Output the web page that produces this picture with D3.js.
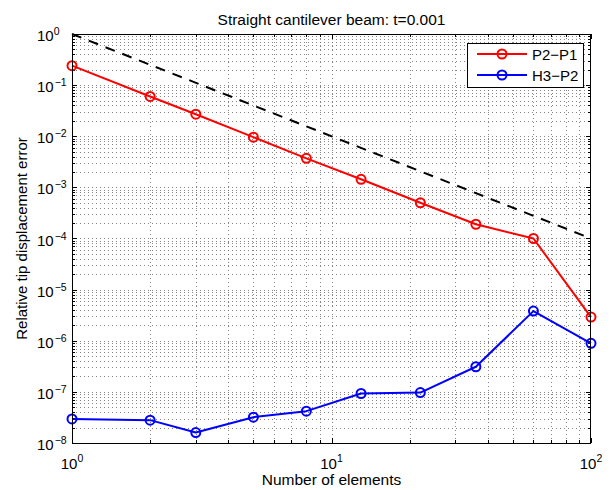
<!DOCTYPE html>
<html>
<head>
<meta charset="utf-8">
<script src="https://cdn.jsdelivr.net/npm/d3@7"></script>
<style>
  html, body { margin: 0; padding: 0; background: #fff; }
  svg { display: block; font-family: "Liberation Sans", Arial, Helvetica, sans-serif; }
</style>
</head>
<body>
<svg id="chart" width="612" height="490"></svg>
<script>
// ---- data ----
const elements = [1, 2, 3, 5, 8, 13, 22, 36, 60, 100];
const p2p1 = [0.24, 0.06, 0.027, 0.0096, 0.0037, 0.00144, 0.0005, 0.00019, 0.0001, 2.9e-6];
const h3p2 = [2.95e-8, 2.8e-8, 1.6e-8, 3.2e-8, 4.2e-8, 9.3e-8, 9.7e-8, 3.1e-7, 3.8e-6, 8.9e-7];
const refX = [1, 100];
const refY = [1, 1e-4];
const xMajorExp = [0, 1, 2];
const yMajorExp = [-8, -7, -6, -5, -4, -3, -2, -1, 0];
const seriesNames = ["P2\u2212P1", "H3\u2212P2"];
const titleText = "Straight cantilever beam: t=0.001";
const xLabelText = "Number of elements";
const yLabelText = "Relative tip displacement error";

// ---- layout ----
const L = 72, R = 591, T = 34, B = 443;
const svg = d3.select("#chart");
const x = d3.scaleLog().domain([1, 100]).range([L, R]);
const y = d3.scaleLog().domain([1e-8, 1]).range([B, T]);

// minor + major tick values
const xTicks = [];
for (let e = 0; e < 2; e++) for (let m = 1; m < 10; m++) xTicks.push(m * Math.pow(10, e));
xTicks.push(100);
const yTicks = [];
for (let e = -8; e < 0; e++) for (let m = 1; m < 10; m++) yTicks.push(m * Math.pow(10, e));
yTicks.push(1);
const isMajor = v => Math.abs(Math.log10(v) - Math.round(Math.log10(v))) < 1e-9;

// ---- grid (dotted) ----
const grid = svg.append("g").attr("stroke", "#333").attr("stroke-width", 0.8)
  .attr("stroke-dasharray", "1,3").attr("opacity", 0.75);
grid.selectAll("line.gx").data(xTicks.filter(v => v > 1 && v < 100)).join("line")
  .attr("x1", d => Math.round(x(d)) + 0.5).attr("x2", d => Math.round(x(d)) + 0.5)
  .attr("y1", T).attr("y2", B);
grid.selectAll("line.gy").data(yTicks.filter(v => v > 1e-8 && v < 1)).join("line")
  .attr("y1", d => Math.round(y(d)) + 0.5).attr("y2", d => Math.round(y(d)) + 0.5)
  .attr("x1", L).attr("x2", R);

// ---- ticks on all four sides ----
const tk = svg.append("g").attr("stroke", "#000").attr("stroke-width", 1);
xTicks.forEach(v => {
  const len = isMajor(v) ? 5 : 3;
  const px = Math.round(x(v)) + 0.5;
  tk.append("line").attr("x1", px).attr("x2", px).attr("y1", B).attr("y2", B - len);
  tk.append("line").attr("x1", px).attr("x2", px).attr("y1", T).attr("y2", T + len);
});
yTicks.forEach(v => {
  const len = isMajor(v) ? 5 : 3;
  const py = Math.round(y(v)) + 0.5;
  tk.append("line").attr("y1", py).attr("y2", py).attr("x1", L).attr("x2", L + len);
  tk.append("line").attr("y1", py).attr("y2", py).attr("x1", R).attr("x2", R - len);
});

// ---- reference slope line ----
const line = d3.line().x(d => x(d[0])).y(d => y(d[1]));
svg.append("path").datum(refX.map((v, i) => [v, refY[i]]))
  .attr("d", line).attr("fill", "none").attr("stroke", "#000")
  .attr("stroke-width", 2).attr("stroke-dasharray", "10,8");

// ---- series ----
const series = [
  { name: seriesNames[0], values: p2p1, color: "#ff0000" },
  { name: seriesNames[1], values: h3p2, color: "#0000ff" }
];
series.forEach(s => {
  const pts = elements.map((v, i) => [v, s.values[i]]);
  svg.append("path").datum(pts).attr("d", line).attr("fill", "none")
    .attr("stroke", s.color).attr("stroke-width", 2).attr("stroke-linejoin", "round");
  svg.append("g").selectAll("circle").data(pts).join("circle")
    .attr("cx", d => x(d[0])).attr("cy", d => y(d[1])).attr("r", 4.5)
    .attr("fill", "none").attr("stroke", s.color).attr("stroke-width", 2);
});

// ---- axes box ----
svg.append("rect").attr("x", L + 0.5).attr("y", T + 0.5)
  .attr("width", R - L - 1).attr("height", B - T).attr("fill", "none")
  .attr("stroke", "#000").attr("stroke-width", 1);

// ---- tick labels ----
const xl = svg.append("g").attr("font-size", 15).attr("fill", "#000");
xMajorExp.forEach(e => {
  const t = xl.append("text").attr("x", x(Math.pow(10, e))).attr("y", 469)
    .attr("text-anchor", "middle");
  t.append("tspan").text("10");
  t.append("tspan").attr("font-size", 10.5).attr("dy", -7).text(String(e).replace("-", "\u2212"));
});
const yl = svg.append("g").attr("font-size", 15).attr("fill", "#000");
yMajorExp.forEach(e => {
  const t = yl.append("text").attr("x", 37).attr("y", y(Math.pow(10, e)) + 7)
    .attr("text-anchor", "start");
  t.append("tspan").text("10");
  t.append("tspan").attr("font-size", 10.5).attr("dy", -6).attr("dx", e < 0 ? 1 : 0)
    .text(String(e).replace("-", "\u2212"));
});

// ---- title & axis labels ----
svg.append("text").attr("x", (L + R) / 2).attr("y", 25).attr("text-anchor", "middle")
  .attr("font-size", 15.5).text(titleText);
svg.append("text").attr("x", (L + R) / 2).attr("y", 485).attr("text-anchor", "middle")
  .attr("font-size", 15.5).text(xLabelText);
svg.append("text").attr("transform", `translate(27,${(T + B) / 2}) rotate(-90)`)
  .attr("text-anchor", "middle").attr("font-size", 15).text(yLabelText);

// ---- legend ----
const lg = svg.append("g");
lg.append("rect").attr("x", 467.5).attr("y", 43.5).attr("width", 116).attr("height", 44)
  .attr("fill", "#fff").attr("stroke", "#000").attr("stroke-width", 1);
series.forEach((s, i) => {
  const cy = 54 + i * 21;
  lg.append("line").attr("x1", 477).attr("x2", 527).attr("y1", cy).attr("y2", cy)
    .attr("stroke", s.color).attr("stroke-width", 2);
  lg.append("circle").attr("cx", 502).attr("cy", cy).attr("r", 4.5)
    .attr("fill", "none").attr("stroke", s.color).attr("stroke-width", 2);
  lg.append("text").attr("x", 532).attr("y", cy + 5.5).attr("font-size", 15)
    .text(s.name);
});
</script>
</body>
</html>
